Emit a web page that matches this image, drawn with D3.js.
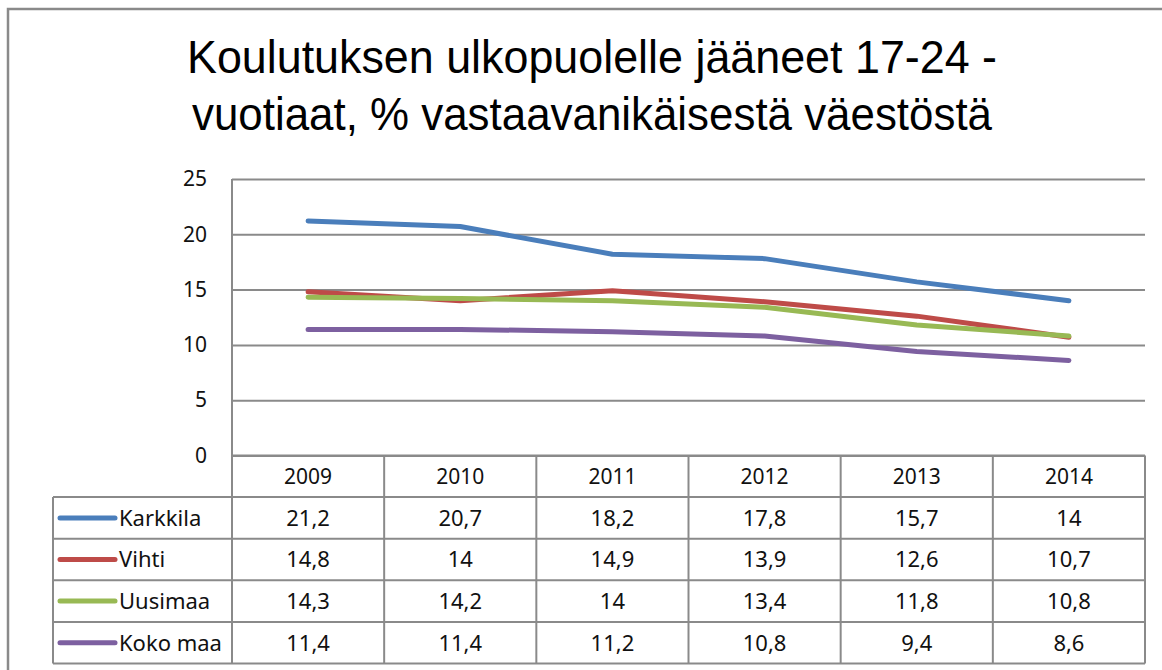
<!DOCTYPE html>
<html>
<head>
<meta charset="utf-8">
<script src="https://cdn.jsdelivr.net/npm/d3@7"></script>
<style>
  html, body { margin: 0; padding: 0; background: #fff; }
  svg { display: block; }
</style>
</head>
<body>
<div id="chart"></div>
<script>
// data
const years = ["2009", "2010", "2011", "2012", "2013", "2014"];
const seriesNames = ["Karkkila", "Vihti", "Uusimaa", "Koko maa"];
const karkkila = [21.2, 20.7, 18.2, 17.8, 15.7, 14];
const vihti = [14.8, 14, 14.9, 13.9, 12.6, 10.7];
const uusimaa = [14.3, 14.2, 14, 13.4, 11.8, 10.8];
const kokoMaa = [11.4, 11.4, 11.2, 10.8, 9.4, 8.6];
const yTicks = [0, 5, 10, 15, 20, 25];
const titleLines = ["Koulutuksen ulkopuolelle jääneet 17-24 -", "vuotiaat, % vastaavanikäisestä väestöstä"];

const colors = ["#4a7ebb", "#be4b48", "#98b954", "#7d60a0"];
const allValues = [karkkila, vihti, uusimaa, kokoMaa];

const W = 1162, H = 670;
const plotLeft = 232, plotRight = 1145, plotTop = 179, plotBottom = 455.5;
const tableLeft = 53, rowH = 41.6;
const font = "'Noto Sans', 'Liberation Sans', sans-serif";
const grey = "#8a8a8a";

const fmt = d => String(d).replace(".", ",");

const svg = d3.select("#chart").append("svg")
    .attr("width", W).attr("height", H);

// outer frame (only top and left visible)
svg.append("path")
    .attr("d", "M8,670 V9 H1162")
    .attr("fill", "none")
    .attr("stroke", grey)
    .attr("stroke-width", 2.5);

// title
svg.append("g").selectAll("text")
    .data(titleLines)
    .join("text")
    .attr("x", 592)
    .attr("y", (d, i) => 73 + i * 57)
    .attr("text-anchor", "middle")
    .attr("textLength", (d, i) => i === 0 ? 810 : 800)
    .attr("lengthAdjust", "spacingAndGlyphs")
    .style("font-family", "'Liberation Sans', Arial, sans-serif")
    .style("font-size", "47px")
    .style("fill", "#000")
    .text(d => d);

const x = d3.scaleBand().domain(years).range([plotLeft, plotRight]);
const y = d3.scaleLinear().domain([0, 25]).range([plotBottom, plotTop]);

// gridlines + y labels
const yAxis = d3.axisLeft(y)
    .tickValues(yTicks)
    .tickSize(-(plotRight - plotLeft))
    .tickPadding(25)
    .tickFormat(fmt);

const gy = svg.append("g")
    .attr("transform", "translate(" + plotLeft + ",0)")
    .call(yAxis);
gy.select(".domain").remove();
gy.selectAll(".tick line")
    .attr("stroke", grey)
    .attr("stroke-width", 2);
gy.selectAll(".tick text")
    .style("font-family", font)
    .style("font-size", "21px")
    .style("fill", "#111");

// vertical axis line down through the table
svg.append("line")
    .attr("x1", plotLeft).attr("x2", plotLeft)
    .attr("y1", plotTop).attr("y2", plotBottom + rowH * 5)
    .attr("stroke", grey).attr("stroke-width", 2);

// lines
const line = d3.line()
    .x((d, i) => x(years[i]) + x.bandwidth() / 2)
    .y(d => y(d));

svg.append("g").selectAll("path")
    .data(allValues)
    .join("path")
    .attr("d", d => line(d))
    .attr("fill", "none")
    .attr("stroke", (d, i) => colors[i])
    .attr("stroke-width", 5)
    .attr("stroke-linecap", "round")
    .attr("stroke-linejoin", "round");

// data table
const table = svg.append("g");

// horizontal rules
const rowYs = d3.range(6).map(i => plotBottom + i * rowH);
table.selectAll("line.h")
    .data(rowYs)
    .join("line")
    .attr("class", "h")
    .attr("x1", (d, i) => i === 0 ? plotLeft : tableLeft)
    .attr("x2", plotRight)
    .attr("y1", d => d).attr("y2", d => d)
    .attr("stroke", grey).attr("stroke-width", 2);

// vertical rules
table.selectAll("line.v")
    .data(years.map(yr => x(yr) + x.bandwidth()))
    .join("line")
    .attr("class", "v")
    .attr("x1", d => d).attr("x2", d => d)
    .attr("y1", plotBottom).attr("y2", plotBottom + rowH * 5)
    .attr("stroke", grey).attr("stroke-width", 2);

table.append("line")
    .attr("x1", tableLeft).attr("x2", tableLeft)
    .attr("y1", plotBottom + rowH).attr("y2", plotBottom + rowH * 5)
    .attr("stroke", grey).attr("stroke-width", 2);

// header years
table.selectAll("text.yr")
    .data(years)
    .join("text")
    .attr("class", "yr")
    .attr("x", d => x(d) + x.bandwidth() / 2)
    .attr("y", plotBottom + rowH / 2)
    .attr("dy", "0.36em")
    .attr("text-anchor", "middle")
    .style("font-family", font)
    .style("font-size", "21px")
    .style("fill", "#111")
    .text(d => d);

// rows
const rows = table.selectAll("g.row")
    .data(allValues)
    .join("g")
    .attr("class", "row")
    .attr("transform", (d, i) => "translate(0," + (plotBottom + rowH * (i + 1) + rowH / 2) + ")");

rows.append("line")
    .attr("x1", 60).attr("x2", 115)
    .attr("y1", 0).attr("y2", 0)
    .attr("stroke", (d, i) => colors[i])
    .attr("stroke-width", 5)
    .attr("stroke-linecap", "round");

rows.append("text")
    .attr("x", 119)
    .attr("dy", "0.36em")
    .style("font-family", font)
    .style("font-size", "22px")
    .style("fill", "#111")
    .text((d, i) => seriesNames[i]);

rows.selectAll("text.val")
    .data(d => d)
    .join("text")
    .attr("class", "val")
    .attr("x", (d, i) => x(years[i]) + x.bandwidth() / 2)
    .attr("dy", "0.36em")
    .attr("text-anchor", "middle")
    .style("font-family", font)
    .style("font-size", "22px")
    .style("fill", "#111")
    .text(d => fmt(d));
</script>
</body>
</html>
